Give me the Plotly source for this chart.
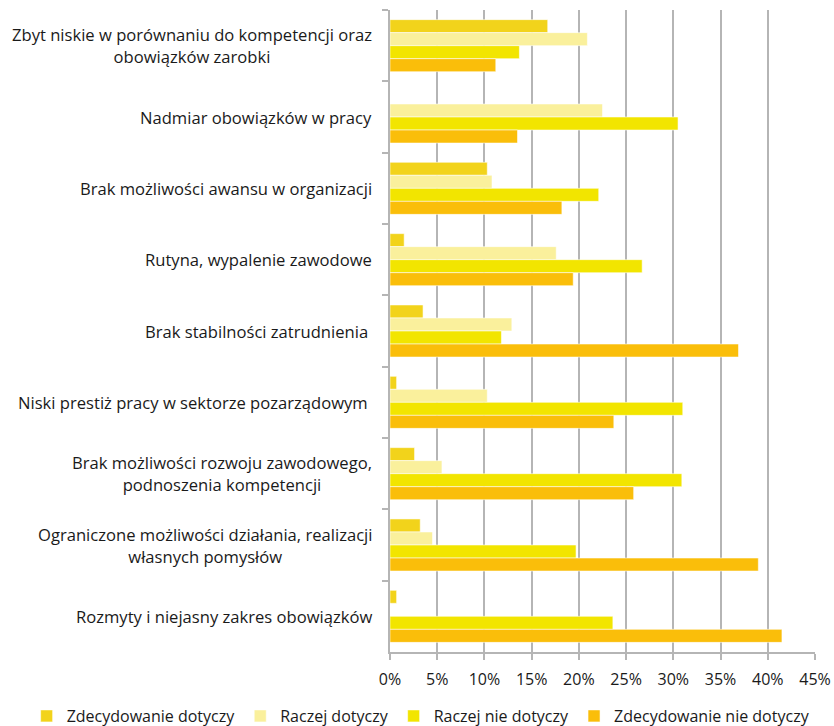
import plotly.graph_objects as go

categories = [
    "Zbyt niskie w porównaniu do kompetencji oraz<br>obowiązków zarobki",
    "Nadmiar obowiązków w pracy",
    "Brak możliwości awansu w organizacji",
    "Rutyna, wypalenie zawodowe",
    "Brak stabilności zatrudnienia\u00a0",
    "Niski prestiż pracy w sektorze pozarządowym\u00a0",
    "Brak możliwości rozwoju zawodowego,<br>podnoszenia kompetencji",
    "Ograniczone możliwości działania, realizacji<br>własnych pomysłów",
    "Rozmyty i niejasny zakres obowiązków",
]

series_names = [
    "Zdecydowanie dotyczy",
    "Raczej dotyczy",
    "Raczej nie dotyczy",
    "Zdecydowanie nie dotyczy",
]

zdecydowanie_dotyczy = [0.167, 0.0, 0.103, 0.015, 0.035, 0.007, 0.026, 0.032, 0.007]
raczej_dotyczy = [0.209, 0.225, 0.108, 0.176, 0.129, 0.103, 0.055, 0.045, 0.0]
raczej_nie_dotyczy = [0.137, 0.305, 0.221, 0.267, 0.118, 0.310, 0.309, 0.197, 0.236]
zdecydowanie_nie_dotyczy = [0.112, 0.135, 0.182, 0.194, 0.369, 0.237, 0.258, 0.390, 0.415]

x_ticks = [0, 0.05, 0.10, 0.15, 0.20, 0.25, 0.30, 0.35, 0.40, 0.45]
x_tick_labels = ["0%", "5%", "10%", "15%", "20%", "25%", "30%", "35%", "40%", "45%"]

colors = ["#F2D31B", "#FAF09C", "#F2E500", "#FABE0A"]
values = [zdecydowanie_dotyczy, raczej_dotyczy, raczej_nie_dotyczy, zdecydowanie_nie_dotyczy]

font_family = "Open Sans, Noto Sans, sans-serif"
text_color = "#1a1a1a"
axis_grey = "#B5B5B5"

fig = go.Figure()
for name, vals, col in zip(series_names, values, colors):
    fig.add_trace(go.Bar(
        y=categories,
        x=vals,
        name=name,
        orientation="h",
        marker=dict(color=col, line=dict(color="rgba(255,255,255,0.55)", width=1)),
    ))

# Category labels drawn as annotations so wrapped lines are centred
for cat in categories:
    fig.add_annotation(
        x=0, xref="paper", xanchor="right", xshift=-16,
        y=cat, yref="y", yanchor="middle",
        text=cat, align="center", showarrow=False,
        font=dict(family=font_family, size=16.6, color=text_color),
    )

fig.update_layout(
    width=834,
    height=726,
    margin=dict(l=390, r=19, t=10, b=74, autoexpand=False),
    barmode="group",
    bargap=0.27,
    bargroupgap=0,
    plot_bgcolor="white",
    paper_bgcolor="white",
    font=dict(family=font_family, size=15, color=text_color),
    showlegend=True,
    legend=dict(
        orientation="h",
        xref="paper",
        x=-0.855,
        xanchor="left",
        yref="paper",
        y=-0.0997,
        yanchor="middle",
        font=dict(size=16),
        traceorder="normal",
        itemwidth=30,
    ),
)

fig.update_xaxes(
    range=[0, 0.45],
    tickvals=x_ticks,
    ticktext=x_tick_labels,
    tickfont=dict(size=16),
    ticklabelstandoff=6,
    showgrid=True,
    gridcolor=axis_grey,
    gridwidth=1.5,
    showline=True,
    linecolor=axis_grey,
    linewidth=1.5,
    ticks="outside",
    ticklen=6,
    tickcolor=axis_grey,
    tickwidth=1.5,
    zeroline=False,
    fixedrange=True,
)

fig.update_yaxes(
    autorange="reversed",
    showticklabels=False,
    showline=True,
    linecolor=axis_grey,
    linewidth=1.5,
    ticks="outside",
    tickson="boundaries",
    ticklen=6,
    tickcolor=axis_grey,
    tickwidth=1.5,
    showgrid=False,
    fixedrange=True,
)

fig.write_html("out.html")
